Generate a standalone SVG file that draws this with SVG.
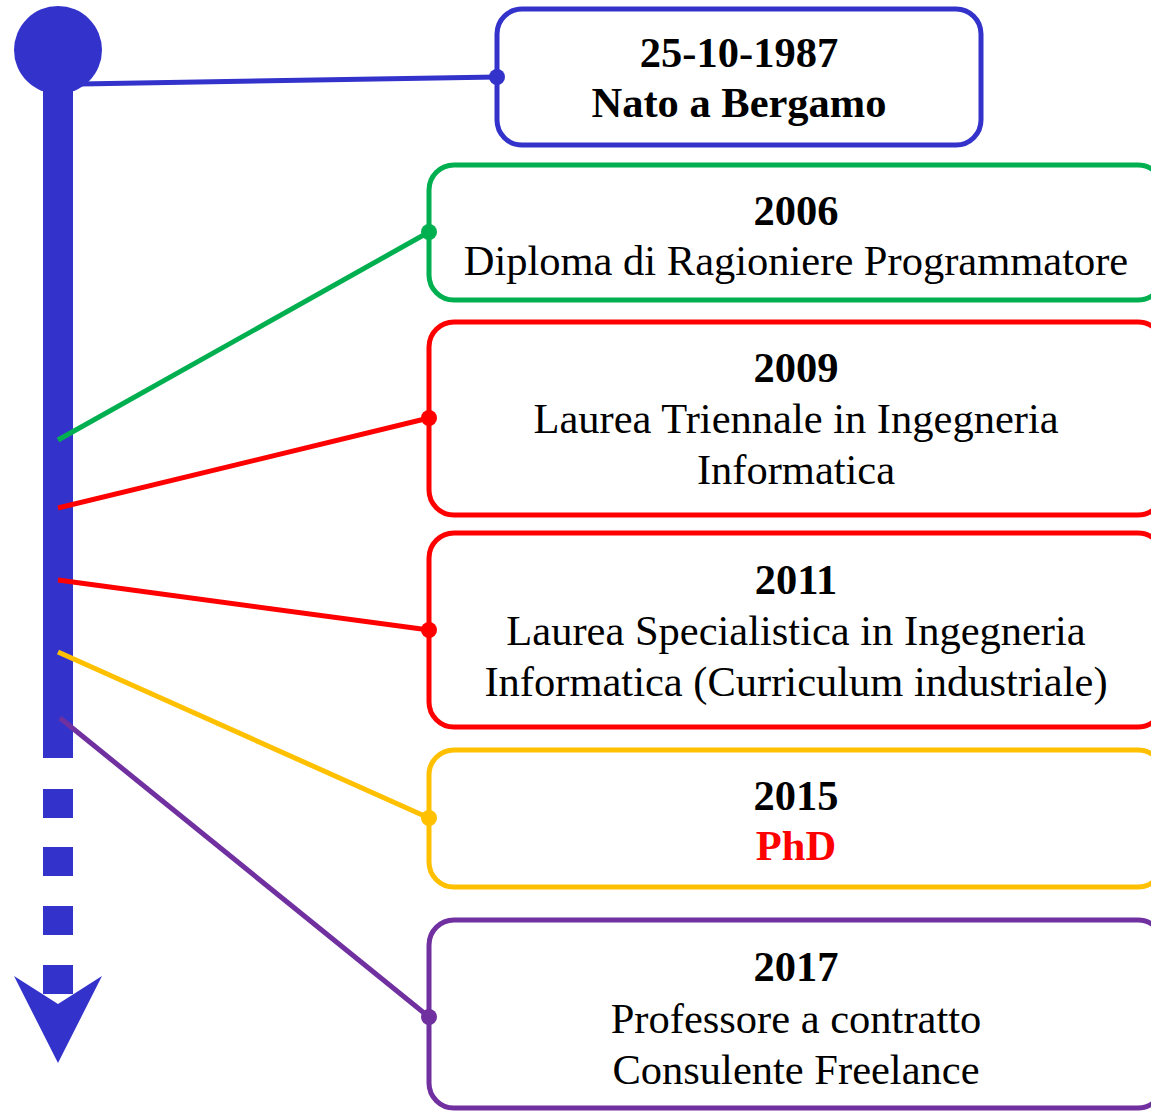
<svg xmlns="http://www.w3.org/2000/svg" width="1151" height="1111" viewBox="0 0 1151 1111">
<style>
.box{fill:#fff;stroke-width:5}
.t{font-family:"Liberation Serif","Times New Roman",serif;font-size:42.5px;text-anchor:middle;fill:#000}
.b{font-weight:bold}
.c{stroke-width:5;fill:none}
</style>
<rect width="1151" height="1111" fill="#fff"/>
<g id="timeline" fill="#3333CC">
<circle cx="58" cy="50" r="44"/>
<rect x="43" y="50" width="30" height="708"/>
<rect x="43" y="789" width="30" height="29"/>
<rect x="43" y="847" width="30" height="29"/>
<rect x="43" y="906" width="30" height="29"/>
<rect x="43" y="965" width="30" height="29"/>
<polygon points="14,976 58,1004 102,976 58,1063"/>
</g>
<g id="n1">
<rect class="box" x="497" y="9" width="484" height="136" rx="25" stroke="#3333CC"/>
<text class="t b" x="739" y="67">25-10-1987</text>
<text class="t b" x="739" y="117">Nato a Bergamo</text>
</g>
<g id="n2">
<rect class="box" x="429" y="165" width="734" height="135" rx="25" stroke="#00B050"/>
<text class="t b" x="796" y="225">2006</text>
<text class="t" x="796" y="275">Diploma di Ragioniere Programmatore</text>
</g>
<g id="n3">
<rect class="box" x="429" y="322" width="734" height="193" rx="25" stroke="#FF0000"/>
<text class="t b" x="796" y="382">2009</text>
<text class="t" x="796" y="433">Laurea Triennale in Ingegneria</text>
<text class="t" x="796" y="484">Informatica</text>
</g>
<g id="n4">
<rect class="box" x="429" y="533" width="734" height="194" rx="25" stroke="#FF0000"/>
<text class="t b" x="796" y="594">2011</text>
<text class="t" x="796" y="645">Laurea Specialistica in Ingegneria</text>
<text class="t" x="796" y="696">Informatica (Curriculum industriale)</text>
</g>
<g id="n5">
<rect class="box" x="429" y="750" width="734" height="137" rx="25" stroke="#FFC000"/>
<text class="t b" x="796" y="810">2015</text>
<text class="t b" x="796" y="860" style="fill:#FF0000">PhD</text>
</g>
<g id="n6">
<rect class="box" x="429" y="920" width="734" height="188" rx="25" stroke="#7030A0"/>
<text class="t b" x="796" y="981">2017</text>
<text class="t" x="796" y="1033">Professore a contratto</text>
<text class="t" x="796" y="1084">Consulente Freelance</text>
</g>
<g id="connectors">
<line class="c" x1="80" y1="84" x2="497" y2="77" stroke="#3333CC"/>
<circle cx="497" cy="77" r="8" fill="#3333CC"/>
<line class="c" x1="58" y1="440" x2="429" y2="232" stroke="#00B050"/>
<circle cx="429" cy="232" r="8" fill="#00B050"/>
<line class="c" x1="58" y1="508" x2="429" y2="418" stroke="#FF0000"/>
<circle cx="429" cy="418" r="8" fill="#FF0000"/>
<line class="c" x1="58" y1="580" x2="429" y2="630" stroke="#FF0000"/>
<circle cx="429" cy="630" r="8" fill="#FF0000"/>
<line class="c" x1="58" y1="652" x2="429" y2="818" stroke="#FFC000"/>
<circle cx="429" cy="818" r="8" fill="#FFC000"/>
<line class="c" x1="60" y1="718" x2="429" y2="1017" stroke="#7030A0"/>
<circle cx="429" cy="1017" r="8" fill="#7030A0"/>
</g>
</svg>
